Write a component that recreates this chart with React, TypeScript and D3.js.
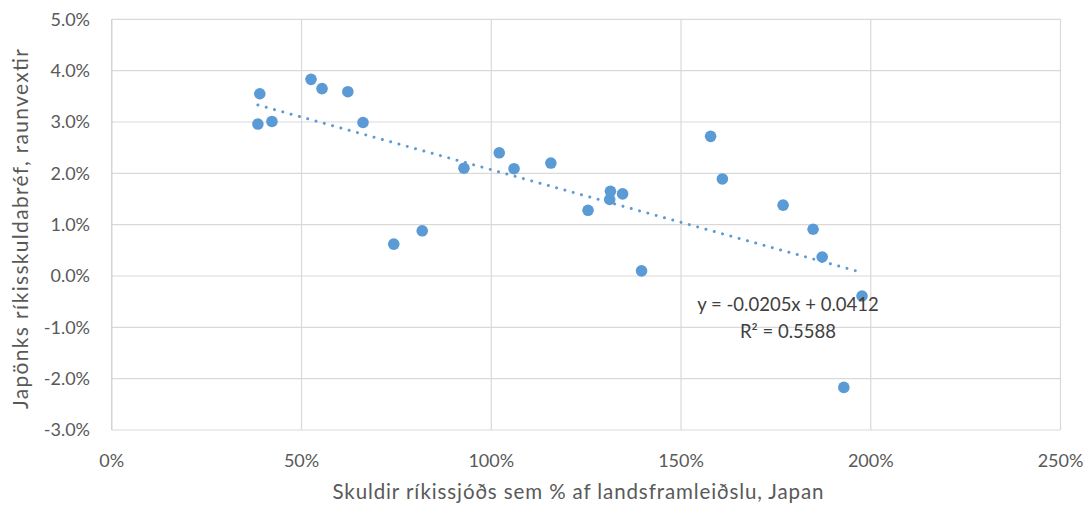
import React from "react";
import * as d3 from "d3";

const debtPct: number[] = [39.0, 38.5, 42.2, 52.5, 55.4, 62.2, 66.2, 74.3, 81.8, 92.8, 102.1, 106.0, 115.7, 125.5, 131.4, 131.2, 134.6, 139.6, 157.8, 160.9, 176.9, 184.8, 187.2, 197.7, 192.9];
const realRate: number[] = [3.55, 2.96, 3.01, 3.83, 3.65, 3.59, 2.99, 0.62, 0.88, 2.10, 2.40, 2.09, 2.20, 1.28, 1.65, 1.49, 1.60, 0.10, 2.72, 1.89, 1.38, 0.91, 0.37, -0.39, -2.17];

const xTicks: number[] = [0, 50, 100, 150, 200, 250];
const yTicks: number[] = [5, 4, 3, 2, 1, 0, -1, -2, -3];

const trendSlope = -0.0205;
const trendIntercept = 0.0412;
const eqLine1 = "y = -0.0205x + 0.0412";
const eqLine2 = "R² = 0.5588";
const xTitle = "Skuldir ríkissjóðs sem % af landsframleiðslu, Japan";
const yTitle = "Japönks ríkisskuldabréf, raunvextir";

const W = 1089;
const H = 508;
const FONT = "Lato, 'Open Sans', sans-serif";

export default function App() {
  const x = d3.scaleLinear().domain([0, 250]).range([111.8, 1060.5]);
  const y = d3.scaleLinear().domain([-3, 5]).range([430, 19.3]);

  const xMin = d3.min(debtPct) as number;
  const xMax = d3.max(debtPct) as number;
  const trend = (p: number) => (trendSlope * (p / 100) + trendIntercept) * 100;
  const line = d3
    .line<number>()
    .x((d) => x(d))
    .y((d) => y(trend(d)));

  return (
    <svg
      width={W}
      height={H}
      style={{ position: "absolute", left: 0, top: 0, background: "#fff" }}
      fontFamily={FONT}
    >
      <rect x={0} y={0} width={W} height={H} fill="#fff" />
      {yTicks.map((t) => (
        <line key={"gy" + t} x1={x(0)} x2={x(250)} y1={y(t)} y2={y(t)} stroke="#d9d9d9" strokeWidth={1.2} />
      ))}
      {xTicks.map((t) => (
        <line key={"gx" + t} x1={x(t)} x2={x(t)} y1={y(5)} y2={y(-3)} stroke={t === 0 ? "#c8c8c8" : "#d9d9d9"} strokeWidth={1.2} />
      ))}
      {yTicks.map((t) => (
        <text key={"ty" + t} x={90} y={y(t)} dy="0.35em" textAnchor="end" fontSize={18} fill="#595959">
          {t.toFixed(1) + "%"}
        </text>
      ))}
      {xTicks.map((t) => (
        <text key={"tx" + t} x={x(t)} y={461} dy="0.35em" textAnchor="middle" fontSize={18} fill="#595959">
          {t + "%"}
        </text>
      ))}
      <path
        d={line([xMin, xMax]) || ""}
        fill="none"
        stroke="#5B9BD5"
        strokeWidth={3}
        strokeLinecap="round"
        strokeDasharray="0.01 8.6"
      />
      {debtPct.map((d, i) => (
        <circle key={"p" + i} cx={x(d)} cy={y(realRate[i])} r={5.8} fill="#5B9BD5" />
      ))}
      <text x={788} y={305} dy="0.35em" textAnchor="middle" fontSize={18.5} fill="#404040">
        {eqLine1}
      </text>
      <text x={788} y={332} dy="0.35em" textAnchor="middle" fontSize={18.5} fill="#404040">
        {eqLine2}
      </text>
      <text
        x={578}
        y={492}
        dy="0.35em"
        textAnchor="middle"
        fontSize={20.5}
        fill="#595959"
        textLength={491}
        lengthAdjust="spacing"
      >
        {xTitle}
      </text>
      <text
        transform={`translate(21,229) rotate(-90)`}
        dy="0.35em"
        textAnchor="middle"
        fontSize={21}
        fill="#595959"
        textLength={360}
        lengthAdjust="spacing"
      >
        {yTitle}
      </text>
    </svg>
  );
}
